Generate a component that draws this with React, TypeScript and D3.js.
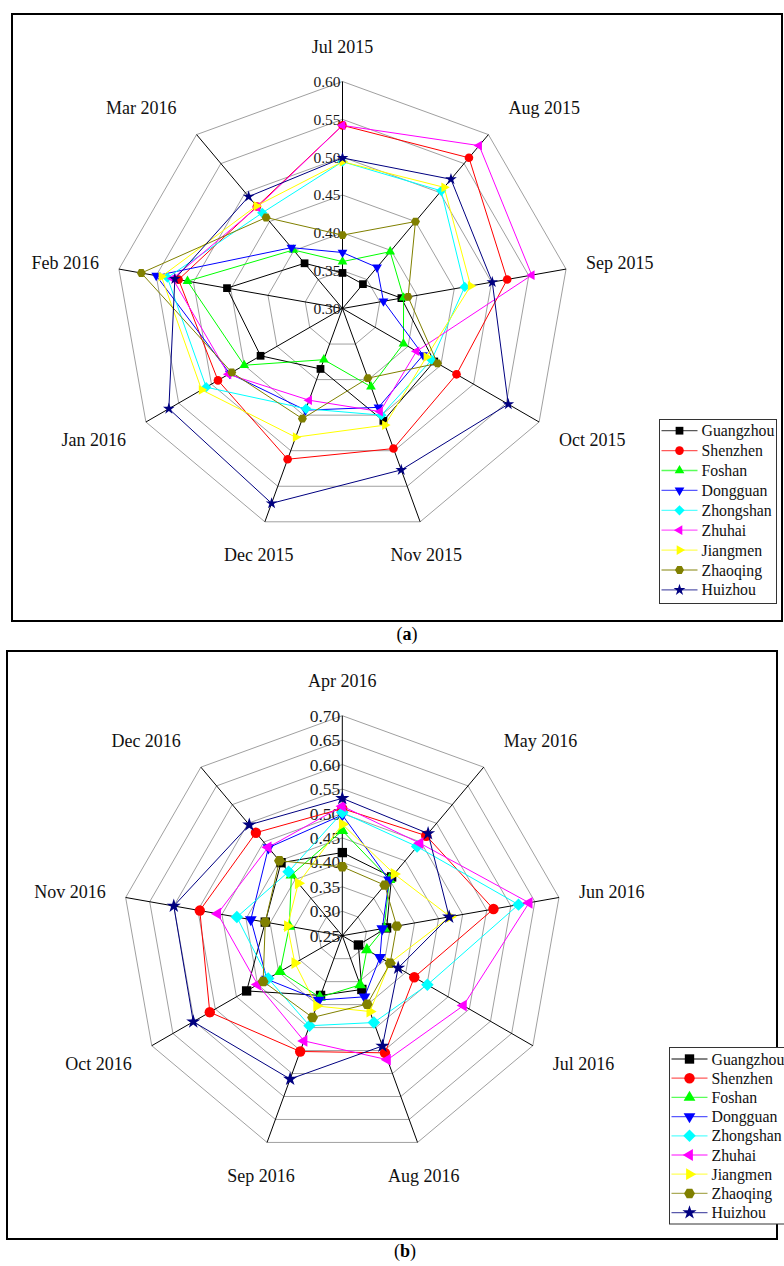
import * as d3 from "d3";

const CITIES = ["Guangzhou", "Shenzhen", "Foshan", "Dongguan", "Zhongshan", "Zhuhai", "Jiangmen", "Zhaoqing", "Huizhou"];
const COLORS = ["#000000", "#FF0000", "#00FF00", "#0000FF", "#00FFFF", "#FF00FF", "#FFFF00", "#808000", "#000080"];
const SHAPES = ["square", "circle", "triUp", "triDown", "diamond", "triLeft", "triRight", "hexagon", "star"];

const MONTHS_A = ["Jul 2015", "Aug 2015", "Sep 2015", "Oct 2015", "Nov 2015", "Dec 2015", "Jan 2016", "Feb 2016", "Mar 2016"];
const MONTHS_B = ["Apr 2016", "May 2016", "Jun 2016", "Jul 2016", "Aug 2016", "Sep 2016", "Oct 2016", "Nov 2016", "Dec 2016"];
const TICKS_A = [0.3, 0.35, 0.4, 0.45, 0.5, 0.55, 0.6];
const TICKS_B = [0.25, 0.3, 0.35, 0.4, 0.45, 0.5, 0.55, 0.6, 0.65, 0.7];

// (a) Jul 2015 - Mar 2016
const GUANGZHOU_A = [0.347, 0.342, 0.379, 0.44, 0.458, 0.385, 0.425, 0.455, 0.378];
const SHENZHEN_A = [0.542, 0.56, 0.521, 0.474, 0.497, 0.512, 0.49, 0.52, 0.476];
const FOSHAN_A = [0.362, 0.398, 0.382, 0.393, 0.41, 0.372, 0.45, 0.508, 0.401];
const DONGGUAN_A = [0.374, 0.371, 0.355, 0.423, 0.439, 0.443, 0.472, 0.55, 0.405];
const ZHONGSHAN_A = [0.494, 0.503, 0.464, 0.436, 0.45, 0.441, 0.508, 0.535, 0.465];
const ZHUHAI_A = [0.542, 0.581, 0.554, 0.413, 0.445, 0.429, 0.474, 0.528, 0.475];
const JIANGMEN_A = [0.494, 0.509, 0.472, 0.428, 0.464, 0.481, 0.515, 0.543, 0.477];
const ZHAOQING_A = [0.397, 0.45, 0.388, 0.445, 0.398, 0.455, 0.469, 0.57, 0.457];
const HUIZHOU_A = [0.499, 0.523, 0.501, 0.553, 0.527, 0.574, 0.565, 0.525, 0.493];

// (b) Apr 2016 - Dec 2016
const GUANGZHOU_B = [0.42, 0.407, 0.342, 0.288, 0.367, 0.38, 0.476, 0.41, 0.445];
const SHENZHEN_B = [0.51, 0.517, 0.564, 0.42, 0.505, 0.502, 0.563, 0.546, 0.525];
const FOSHAN_B = [0.465, 0.4, 0.337, 0.308, 0.357, 0.384, 0.397, 0.36, 0.412];
const DONGGUAN_B = [0.497, 0.399, 0.333, 0.339, 0.383, 0.39, 0.428, 0.44, 0.485];
const ZHONGSHAN_B = [0.502, 0.488, 0.616, 0.451, 0.439, 0.446, 0.425, 0.469, 0.421];
const ZHUHAI_B = [0.515, 0.497, 0.638, 0.536, 0.52, 0.479, 0.45, 0.509, 0.486];
const JIANGMEN_B = [0.478, 0.415, 0.474, 0.362, 0.415, 0.403, 0.362, 0.364, 0.39];
const ZHAOQING_B = [0.391, 0.385, 0.363, 0.363, 0.399, 0.428, 0.437, 0.41, 0.45];
const HUIZHOU_B = [0.531, 0.523, 0.472, 0.382, 0.49, 0.562, 0.602, 0.6, 0.546];

const SERIES_A = [GUANGZHOU_A, SHENZHEN_A, FOSHAN_A, DONGGUAN_A, ZHONGSHAN_A, ZHUHAI_A, JIANGMEN_A, ZHAOQING_A, HUIZHOU_A];
const SERIES_B = [GUANGZHOU_B, SHENZHEN_B, FOSHAN_B, DONGGUAN_B, ZHONGSHAN_B, ZHUHAI_B, JIANGMEN_B, ZHAOQING_B, HUIZHOU_B];

const FONT = "'Liberation Serif', 'Times New Roman', serif";

function polygon(pts: [number, number][]) {
  return "M" + pts.map((p) => p.join(",")).join("L") + "Z";
}

function rotPts(pts: [number, number][], deg: number): [number, number][] {
  const a = (deg * Math.PI) / 180;
  return pts.map(([x, y]) => [x * Math.cos(a) - y * Math.sin(a), x * Math.sin(a) + y * Math.cos(a)]);
}

function markerPath(shape: string, s: number) {
  const tri: [number, number][] = [[0, -s * 1.3], [s * 1.13, s * 0.65], [-s * 1.13, s * 0.65]];
  switch (shape) {
    case "square":
      return polygon([[-s * 0.9, -s * 0.9], [s * 0.9, -s * 0.9], [s * 0.9, s * 0.9], [-s * 0.9, s * 0.9]]);
    case "circle":
      return d3.symbol().type(d3.symbolCircle).size(Math.PI * s * s)()!;
    case "triUp":
      return polygon(tri);
    case "triDown":
      return polygon(rotPts(tri, 180));
    case "triLeft":
      return polygon(rotPts(tri, -90));
    case "triRight":
      return polygon(rotPts(tri, 90));
    case "diamond":
      return polygon([[0, -s * 1.2], [s * 1.2, 0], [0, s * 1.2], [-s * 1.2, 0]]);
    case "hexagon":
      return polygon(d3.range(6).map((i) => {
        const a = (i * Math.PI) / 3;
        return [s * 1.05 * Math.cos(a), s * 1.05 * Math.sin(a)] as [number, number];
      }));
    default:
      return d3.symbol().type(d3.symbolStar).size(s * s * 2.3)()!;
  }
}

interface RadarProps {
  cx: number;
  cy: number;
  radius: number;
  ticks: number[];
  months: string[];
  series: number[][];
  tickFont: number;
  mark: number;
  legend: { x: number; y: number; w: number; h: number; row0: number; step: number };
}

function Radar({ cx, cy, radius, ticks, months, series, tickFont, mark, legend }: RadarProps) {
  const r = d3.scaleLinear().domain([ticks[0], ticks[ticks.length - 1]]).range([0, radius]);
  const n = months.length;
  const angle = (i: number) => (i * 2 * Math.PI) / n;
  const pt = (i: number, v: number): [number, number] => [
    cx + Math.sin(angle(i)) * r(v),
    cy - Math.cos(angle(i)) * r(v),
  ];
  const radial = d3
    .lineRadial<number>()
    .angle((_, i) => angle(i))
    .radius((v) => r(v))
    .curve(d3.curveLinearClosed);
  const fmt = d3.format(".2f");
  const top = ticks[ticks.length - 1];

  return (
    <g>
      {ticks.slice(1).map((t) => (
        <path key={t} d={radial(months.map(() => t))!} transform={`translate(${cx},${cy})`} fill="none" stroke="#a0a0a0" strokeWidth={1} />
      ))}
      {months.map((m, i) => {
        const [x, y] = pt(i, top);
        return <line key={m} x1={cx} y1={cy} x2={x} y2={y} stroke="#000" strokeWidth={1} />;
      })}
      {ticks.map((t) => (
        <text key={t} x={cx - 2} y={cy - r(t)} dy="0.35em" textAnchor="end" fontFamily={FONT} fontSize={tickFont} fill="#1a1a1a">
          {fmt(t)}
        </text>
      ))}
      {months.map((m, i) => {
        const [x, y] = pt(i, top);
        const dx = Math.sin(angle(i));
        const dy = -Math.cos(angle(i));
        const side = Math.abs(dx) > 0.5;
        const anchor = side ? (dx > 0 ? "start" : "end") : "middle";
        const lx = side ? x + Math.sign(dx) * 20 : x + dx * 18;
        const ly = y + dy * 35;
        return (
          <text key={m} x={lx} y={ly} dy="0.35em" textAnchor={anchor} fontFamily={FONT} fontSize={18} fill="#111">
            {m}
          </text>
        );
      })}
      {series.map((vals, k) => (
        <g key={CITIES[k]}>
          <path d={radial(vals)!} transform={`translate(${cx},${cy})`} fill="none" stroke={COLORS[k]} strokeWidth={1} />
          {vals.map((v, i) => {
            const [x, y] = pt(i, v);
            return <path key={i} d={markerPath(SHAPES[k], mark)} transform={`translate(${x},${y})`} fill={COLORS[k]} />;
          })}
        </g>
      ))}
      <rect x={legend.x} y={legend.y} width={legend.w} height={legend.h} fill="#fff" stroke="#333" strokeWidth={1} />
      {CITIES.map((c, k) => {
        const y = legend.row0 + k * legend.step;
        const x0 = legend.x + 2;
        return (
          <g key={c}>
            <line x1={x0} x2={x0 + 36} y1={y} y2={y} stroke={COLORS[k]} strokeOpacity={0.65} strokeWidth={1.3} />
            <path d={markerPath(SHAPES[k], mark)} transform={`translate(${x0 + 18},${y})`} fill={COLORS[k]} />
            <text x={x0 + 40} y={y} dy="0.35em" fontFamily={FONT} fontSize={15.8} fill="#111">
              {c}
            </text>
          </g>
        );
      })}
    </g>
  );
}

export default function App() {
  return (
    <svg width={784} height={1266} style={{ position: "absolute", left: 0, top: 0, background: "#fff" }}>
      <rect x={12} y={14} width={770} height={607} fill="#fff" stroke="#000" strokeWidth={2} />
      <Radar
        cx={342.5}
        cy={308.5}
        radius={227}
        ticks={TICKS_A}
        months={MONTHS_A}
        series={SERIES_A}
        tickFont={15.5}
        mark={4.3}
        legend={{ x: 659.5, y: 419.5, w: 117, h: 184, row0: 430.7, step: 19.9 }}
      />
      <text x={407} y={640} textAnchor="middle" fontFamily={FONT} fontSize={18} fill="#000">
        (<tspan fontWeight="bold">a</tspan>)
      </text>

      <rect x={7} y={651} width={770} height={588} fill="#fff" stroke="#000" strokeWidth={2} />
      <Radar
        cx={342.3}
        cy={935.7}
        radius={220}
        ticks={TICKS_B}
        months={MONTHS_B}
        series={SERIES_B}
        tickFont={17.5}
        mark={5.2}
        legend={{ x: 669.5, y: 1047.5, w: 125, h: 176.5, row0: 1059, step: 19.2 }}
      />
      <text x={405} y={1257} textAnchor="middle" fontFamily={FONT} fontSize={18} fill="#000">
        (<tspan fontWeight="bold">b</tspan>)
      </text>
    </svg>
  );
}
